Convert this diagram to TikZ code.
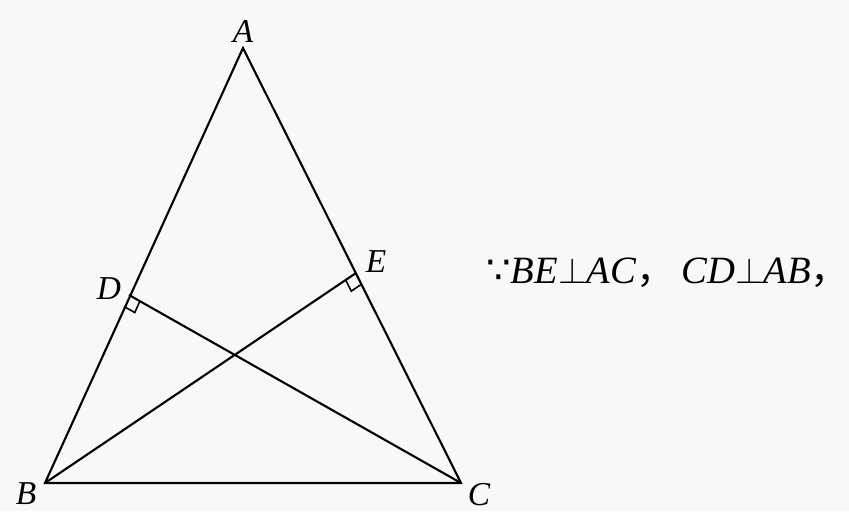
\documentclass[tikz,border=0pt]{standalone}
\usepackage{amssymb}
\usepackage{fontspec}
\setmainfont{Liberation Serif}
\newfontfamily\cjk{Noto Sans CJK SC}
\newfontfamily\symf{DejaVu Sans}
\usetikzlibrary{calc}
\definecolor{paperGray}{RGB}{248,248,248}
\begin{document}
\begin{tikzpicture}[
  x=0.02cm,y=-0.02cm,
  side/.style={line width=1.2pt,line join=miter},
  rtmark/.style={line width=0.9pt},
  vlbl/.style={font=\fontsize{19}{19}\selectfont\itshape,inner sep=0pt},
  txt/.style={font=\fontsize{22}{22}\selectfont,inner sep=0pt,anchor=base west}
]
  \fill[paperGray] (0,0) rectangle (849,511);
  \useasboundingbox (0,0) rectangle (849,511);

  % vertices
  \coordinate (A) at (243,48);
  \coordinate (B) at (45,483);
  \coordinate (C) at (461,483);
  \coordinate (D) at (129,295);
  \coordinate (E) at (356,273);

  % ── triangle and altitudes ──
  \draw[side] (A)--(B)--(C)--cycle;
  \draw[side] (C)--(D);
  \draw[side] (B)--(E);

  % ── right angle marks ──
  \coordinate (D1) at ($(D)!0.25cm!(B)$);
  \coordinate (D2) at ($(D)!0.25cm!(C)$);
  \draw[rtmark] (D1)--($(D1)+(D2)-(D)$)--(D2);
  \coordinate (E1) at ($(E)!0.25cm!(B)$);
  \coordinate (E2) at ($(E)!0.25cm!(C)$);
  \draw[rtmark] (E1)--($(E1)+(E2)-(E)$)--(E2);

  % labels
  \node[vlbl](lB) at (26,494)  {B};
  \node[vlbl](lA) at (243,31)  {A};
  \node[vlbl](lC) at (479,495) {C};
  \node[vlbl](lD) at (109,289) {D};
  \node[vlbl](lE) at (376,262) {E};

  \node[txt](cond) at (486,283)
      {{\symf ∵}\textit{BE}$\perp$\textit{AC}{\cjk ，}\,\textit{CD}$\perp$\textit{AB}{\cjk ，}};
\end{tikzpicture}
\end{document}
